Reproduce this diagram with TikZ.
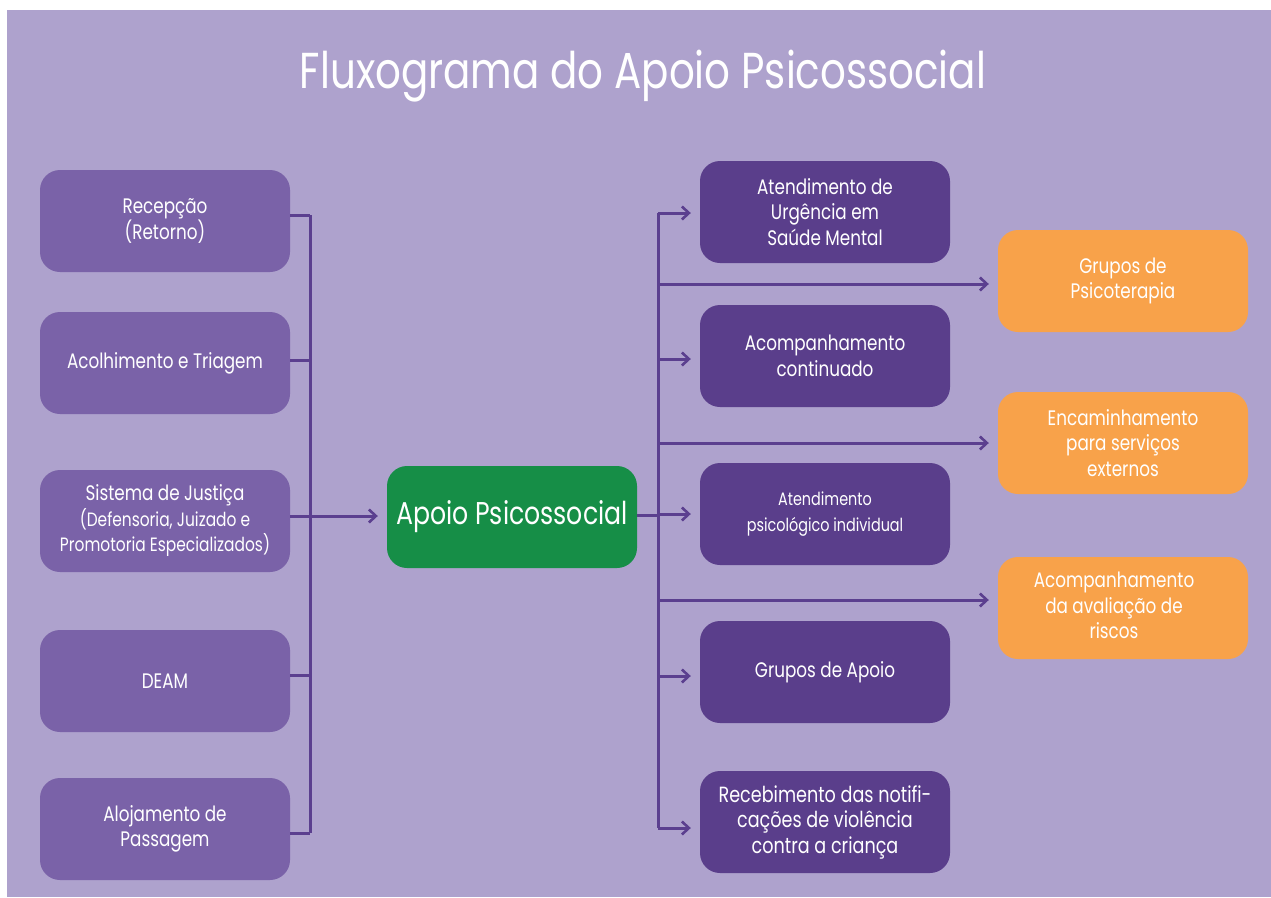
\documentclass[tikz,border=0pt]{standalone}
\usepackage{fontspec}
\setmainfont{Poppins}[FakeStretch=0.8]
\usetikzlibrary{arrows.meta}
\definecolor{bg}{HTML}{AEA2CD}
\definecolor{lbox}{HTML}{7A62A8}
\definecolor{rbox}{HTML}{5A3E8B}
\definecolor{gbox}{HTML}{168E47}
\definecolor{obox}{HTML}{F8A24A}
\definecolor{wire}{HTML}{5B3F8F}
\tikzset{
  box/.style={rectangle, rounded corners=20pt, minimum width=250pt, minimum height=102pt,
    text=white, align=center, inner sep=0pt, font=\fontsize{21}{25.5}\selectfont},
  lefts/.style={box, fill=lbox},
  rights/.style={box, fill=rbox},
  orng/.style={box, fill=obox},
  wireline/.style={draw=wire, line width=3pt},
  arr/.style={wireline, -{Straight Barb[length=7pt,width=13pt,line width=2.6pt]}, shorten >=9pt}
}
\begin{document}
\begin{tikzpicture}[x=1pt,y=-1pt]
\useasboundingbox (0,0) rectangle (1271,897);
\fill[bg] (7,10) rectangle (1271,897);
\node[text=white, font=\fontsize{50.5}{58}\selectfont] (title) at (643,76) {Fluxograma do Apoio Psicossocial};
% left column
\node[lefts] (rec) at (165,221) {Recepção\\(Retorno)};
\node[lefts] (aco) at (165,363) {Acolhimento e Triagem};
\node[lefts] (sis) at (165,521) {Sistema de Justiça\\{\fontsize{19.3}{25.5}\selectfont(Defensoria, Juizado e}\\{\fontsize{19.3}{25.5}\selectfont Promotoria Especializados)}};
\node[lefts] (deam) at (165,681) {DEAM};
\node[lefts] (alo) at (165,829) {Alojamento de\\Passagem};
% centre
\node[box, fill=gbox, font=\fontsize{31.5}{38}\selectfont] (ap) at (512,517) {\raisebox{5pt}{Apoio Psicossocial}};
% right column
\node[rights] (urg) at (825,212) {Atendimento de\\Urgência em\\Saúde Mental};
\node[rights] (cont) at (825,356) {Acompanhamento\\continuado};
\node[rights, font=\fontsize{18}{25.5}\selectfont] (psi) at (825,514) {Atendimento\\psicológico individual};
\node[rights] (gap) at (825,672) {\raisebox{1pt}{Grupos de Apoio}};
\node[rights, font=\fontsize{22}{25.5}\selectfont] (rcb) at (825,822) {Recebimento das notifi-\\cações de violência\\contra a criança};
% orange column
\node[orng] (gps) at (1123,281) {\raisebox{8pt}{\begin{tabular}{c}Grupos de\\Psicoterapia\end{tabular}}};
\node[orng] (enc) at (1123,443) {Encaminhamento\\para serviços\\externos};
\node[orng] (ava) at (1123,608) {\hspace*{-18pt}\begin{tabular}{c}Acompanhamento\\da avaliação de\\riscos\end{tabular}};
% buses
\coordinate (lt) at (310,215);
\coordinate (lb) at (310,833);
\coordinate (rt) at (658,213);
\coordinate (rb) at (658,828);
\draw[wireline] (lt) -- (lb);
\draw[wireline] (rt) -- (rb);
% left stubs
\draw[wireline] ([yshift=6pt]rec.east) -- ([yshift=6pt]rec.east -| lt);
\draw[wireline] ([yshift=3pt]aco.east) -- ([yshift=3pt]aco.east -| lt);
\draw[wireline] ([yshift=6pt]deam.east) -- ([yshift=6pt]deam.east -| lt);
\draw[wireline] ([yshift=-4pt]alo.east) -- ([yshift=-4pt]alo.east -| lt);
\draw[arr] ([yshift=5pt]sis.east) -- ([yshift=5pt]sis.east -| ap.west);
% centre to right bus
\draw[wireline] ([yshift=2pt]ap.east) -- ([yshift=2pt]ap.east -| rt);
% right arrows
\draw[arr] (rt) -- (rt -| urg.west);
\draw[arr] ([yshift=-3pt]cont.west -| rt) -- ([yshift=-3pt]cont.west);
\draw[arr] (psi.west -| rt) -- (psi.west);
\draw[arr] ([yshift=-4pt]gap.west -| rt) -- ([yshift=-4pt]gap.west);
\draw[arr] ([yshift=-6pt]rcb.west -| rt) -- ([yshift=-6pt]rcb.west);
\draw[arr] ([yshift=-3pt]gps.west -| rt) -- ([yshift=-3pt]gps.west);
\draw[arr] (enc.west -| rt) -- (enc.west);
\draw[arr] ([yshift=8pt]ava.west -| rt) -- ([yshift=8pt]ava.west);
\end{tikzpicture}
\end{document}
